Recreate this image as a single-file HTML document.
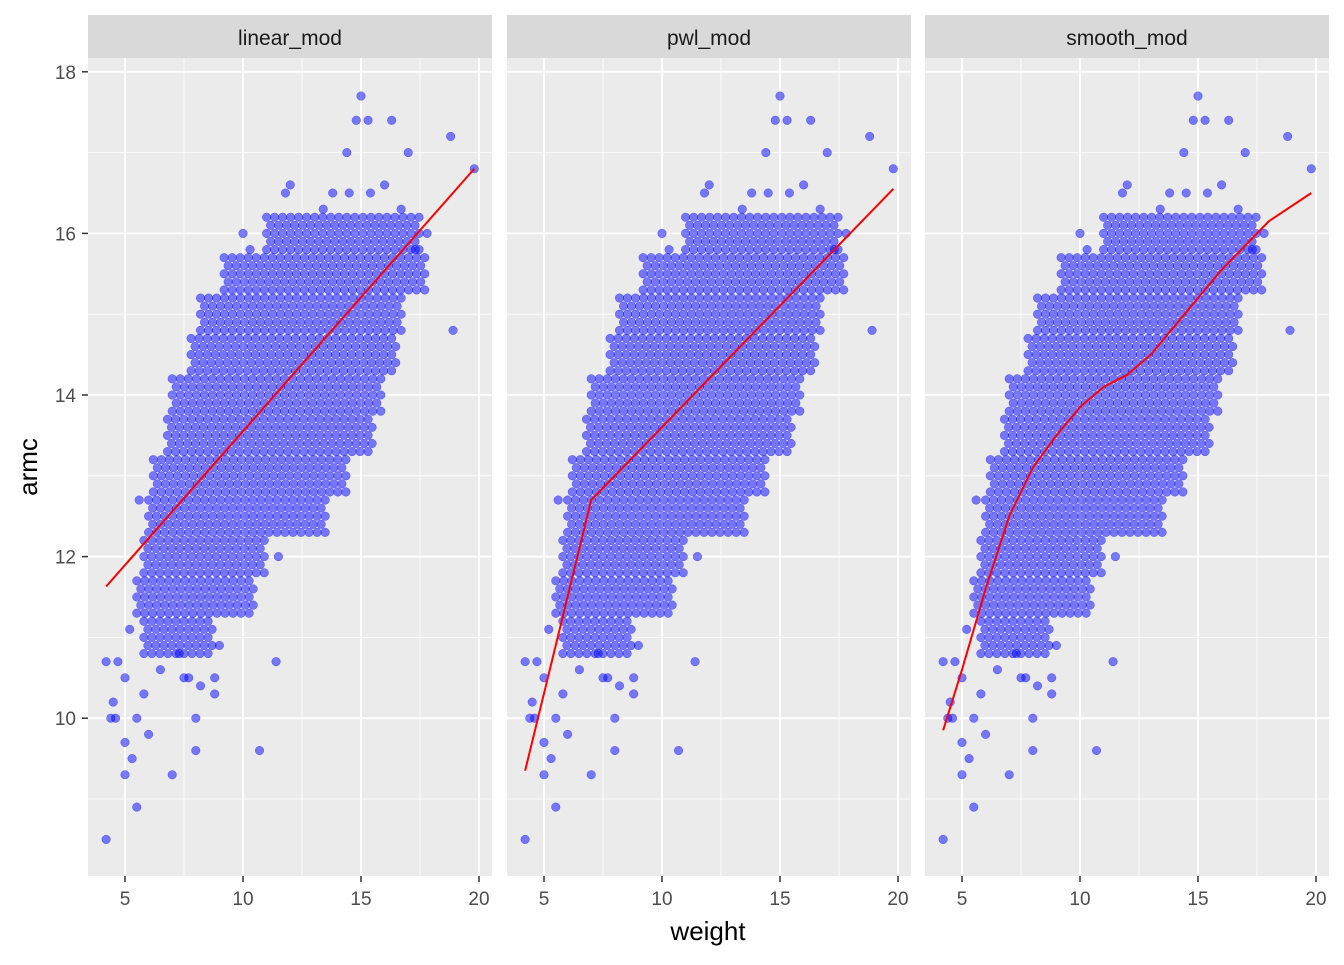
<!DOCTYPE html>
<html><head><meta charset="utf-8"><style>
body{margin:0;background:#fff;font-family:"Liberation Sans",Arial,sans-serif;}
svg text{font-family:"Liberation Sans",Arial,sans-serif;}
</style></head><body>
<svg id="chart" width="1344" height="960" xmlns="http://www.w3.org/2000/svg"></svg>
<script>
const panelNames = ["linear_mod","pwl_mod","smooth_mod"];
const xTicks = [5,10,15,20];
const yTicks = [10,12,14,16,18];
// dense cloud: armc level bands with weight extents
const cloudArmc = [11.0,11.5,12.0,12.5,13.0,13.5,14.0,14.5,15.0,15.5,16.0];
const cloudMinW = [5.8,5.5,5.8,6.0,6.2,6.8,7.0,7.8,8.2,9.2,11.0];
const cloudMaxW = [8.8,10.5,11.0,13.5,14.5,15.5,16.0,16.5,16.8,17.8,17.5];
// individual outlying points (weight, armc)
const outW = [15.0,14.8,15.3,16.3,18.8,14.4,17.0,19.8,12.0,16.0,11.8,13.8,14.5,15.4,13.4,16.7,10.0,10.3,17.3,18.9,5.6,11.5,11.4,4.2,4.7,5.0,7.5,8.8,8.2,5.8,8.8,4.5,4.4,4.6,5.5,8.0,6.0,5.0,8.0,10.7,5.3,5.0,7.0,5.5,4.2,9.0,5.2,6.5,7.3,7.7,17.8];
const outA = [17.7,17.4,17.4,17.4,17.2,17.0,17.0,16.8,16.6,16.6,16.5,16.5,16.5,16.5,16.3,16.3,16.0,15.8,15.8,14.8,12.7,12.0,10.7,10.7,10.7,10.5,10.5,10.5,10.4,10.3,10.3,10.2,10.0,10.0,10.0,10.0,9.8,9.7,9.6,9.6,9.5,9.3,9.3,8.9,8.5,10.9,11.1,10.6,10.8,10.5,16.0];
// fitted lines
const linW = [4.2,19.8], linA = [11.63,16.8];
const pwlW = [4.2,7.0,19.8], pwlA = [9.35,12.7,16.55];
const smW = [4.2,5,6,7,8,9,10,11,12,13,14,15,16,17,18,19.8];
const smA = [9.85,10.6,11.6,12.5,13.1,13.5,13.85,14.1,14.25,14.5,14.85,15.2,15.55,15.85,16.15,16.5];
const fits = [[linW,linA],[pwlW,pwlA],[smW,smA]];

const NS="http://www.w3.org/2000/svg";
const svg=document.getElementById('chart');
function mk(t,a,p){const e=document.createElementNS(NS,t);for(const k in a)e.setAttribute(k,a[k]);(p||svg).appendChild(e);return e;}
const panelX=[88,507,925], panelW=404, plotTop=58, plotBottom=876;
function yS(v){return 395+(14-v)*80.8;}
function xS(p,v){return panelX[p]+37+(v-5)*23.6;}

yTicks.forEach(v=>{
  const t=mk('text',{x:76,y:yS(v)+7,'text-anchor':'end','font-size':19,fill:'#4d4d4d'});
  
  
  t.textContent=v;
  mk('line',{x1:82,x2:88,y1:yS(v),y2:yS(v),stroke:'#333','stroke-width':1.5});
});
for(let p=0;p<3;p++){
  const g=mk('g',{});
  
  
  mk('rect',{x:panelX[p],y:plotTop,width:panelW,height:plotBottom-plotTop,fill:'#ebebeb'},g);
  const s=mk('rect',{x:panelX[p],y:15,width:panelW,height:43,fill:'#d9d9d9'},g);
  
  
  const st=mk('text',{x:panelX[p]+panelW/2,y:45,'text-anchor':'middle','font-size':21,fill:'#1a1a1a'},g);
  
  
  st.textContent=panelNames[p];
  [9,11,13,15,17].forEach(v=>mk('line',{x1:panelX[p],x2:panelX[p]+panelW,y1:yS(v),y2:yS(v),stroke:'#fff','stroke-width':0.8},g));
  [7.5,12.5,17.5].forEach(v=>mk('line',{x1:xS(p,v),x2:xS(p,v),y1:plotTop,y2:plotBottom,stroke:'#fff','stroke-width':0.8},g));
  yTicks.forEach(v=>mk('line',{x1:panelX[p],x2:panelX[p]+panelW,y1:yS(v),y2:yS(v),stroke:'#fff','stroke-width':1.8},g));
  xTicks.forEach(v=>{
    mk('line',{x1:xS(p,v),x2:xS(p,v),y1:plotTop,y2:plotBottom,stroke:'#fff','stroke-width':1.8},g);
    mk('line',{x1:xS(p,v),x2:xS(p,v),y1:plotBottom,y2:plotBottom+6,stroke:'#333','stroke-width':1.5},g);
    const t=mk('text',{x:xS(p,v),y:905,'text-anchor':'middle','font-size':19,fill:'#4d4d4d'},g);
    
    
    t.textContent=v;
  });
  const pts=mk('g',{fill:'#0000ff','fill-opacity':0.5,stroke:'#0000ff','stroke-opacity':0.5,'stroke-width':0.5},g);
  
  
  for(let i=0;i<cloudArmc.length;i++){
    for(let k=-2;k<=2;k++){
      const a=cloudArmc[i]+k*0.1;
      for(let w=cloudMinW[i]+(k&1)*0.17;w<=cloudMaxW[i];w+=0.34){
        const c=mk('circle',{cx:xS(p,w),cy:yS(a),r:4.3},pts);
        
        
      }
    }
  }
  for(let i=0;i<outW.length;i++){
    const c=mk('circle',{cx:xS(p,outW[i]),cy:yS(outA[i]),r:4.3},pts);
    
    
  }
  const fw=fits[p][0], fa=fits[p][1];
  const l=mk('polyline',{points:fw.map((w,i)=>xS(p,w)+','+yS(fa[i])).join(' '),fill:'none',stroke:'#ff0000','stroke-width':2},g);
  
  
}
const xt=mk('text',{x:708,y:940,'text-anchor':'middle','font-size':26,fill:'#000'});


xt.textContent='weight';
const yt=mk('text',{x:37,y:467,'text-anchor':'middle','font-size':26,fill:'#000',transform:'rotate(-90 37 467)'});


yt.textContent='armc';
</script>
</body></html>
